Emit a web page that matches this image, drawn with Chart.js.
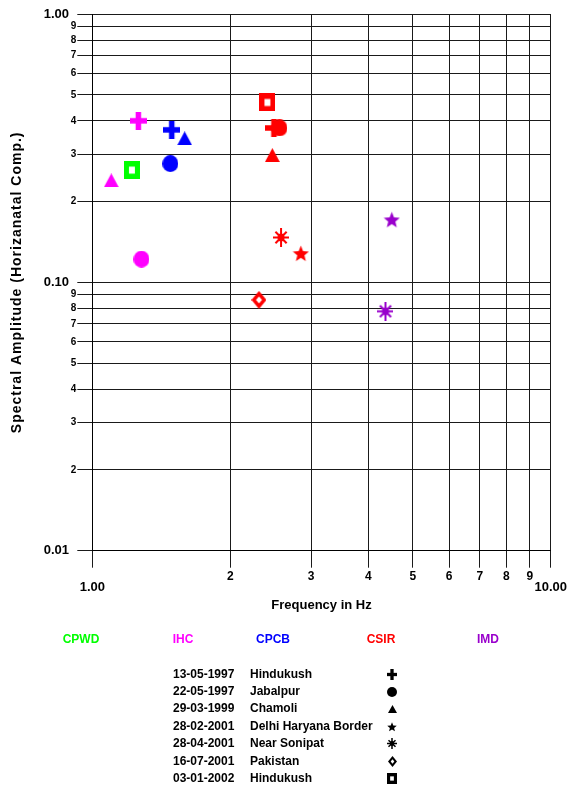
<!DOCTYPE html>
<html>
<head>
<meta charset="utf-8">
<script src="https://cdn.jsdelivr.net/npm/chart.js@4/dist/chart.umd.min.js"></script>
<style>
  html, body { margin: 0; padding: 0; background: #fff; }
  canvas { display: block; }
</style>
</head>
<body>
<canvas id="c" width="569" height="788" style="width:569px;height:788px"></canvas>
<script>
// ---------------- DATA ----------------
const agencies = ['CPWD', 'IHC', 'CPCB', 'CSIR', 'IMD'];
const eventDates = ['13-05-1997', '22-05-1997', '29-03-1999', '28-02-2001', '28-04-2001', '16-07-2001', '03-01-2002'];
const eventPlaces = ['Hindukush', 'Jabalpur', 'Chamoli', 'Delhi Haryana Border', 'Near Sonipat', 'Pakistan', 'Hindukush'];

const cpwdFreq = [1.22];
const cpwdAmp = [0.262];
const cpwdEvent = [6];

const ihcFreq = [1.26, 1.28, 1.10];
const ihcAmp = [0.400, 0.122, 0.240];
const ihcEvent = [0, 1, 2];

const cpcbFreq = [1.49, 1.48, 1.59];
const cpcbAmp = [0.370, 0.277, 0.344];
const cpcbEvent = [0, 1, 2];

const csirFreq = [2.49, 2.56, 2.47, 2.85, 2.58, 2.31, 2.41];
const csirAmp = [0.376, 0.376, 0.298, 0.128, 0.147, 0.086, 0.468];
const csirEvent = [0, 1, 2, 3, 4, 5, 6];

const imdFreq = [4.50, 4.36];
const imdAmp = [0.171, 0.078];
const imdEvent = [3, 4];

const xTickValues = [1, 2, 3, 4, 5, 6, 7, 8, 9, 10];
const xTickLabels = ['1.00', '2', '3', '4', '5', '6', '7', '8', '9', '10.00'];
const yTickValues = [0.01, 0.02, 0.03, 0.04, 0.05, 0.06, 0.07, 0.08, 0.09,
                     0.1, 0.2, 0.3, 0.4, 0.5, 0.6, 0.7, 0.8, 0.9, 1];
const yTickLabels = ['0.01', '2', '3', '4', '5', '6', '7', '8', '9',
                     '0.10', '2', '3', '4', '5', '6', '7', '8', '9', '1.00'];
const xTitle = 'Frequency in Hz';
const yTitle = 'Spectral Amplitude (Horizanatal Comp.)';

// ---------------- STYLES ----------------
const agencyColors = ['#00ff00', '#ff00ff', '#0000ff', '#ff0000', '#9900cc'];
const symbolShapes = ['plus', 'circle', 'triangle', 'star', 'asterisk', 'diamond', 'square'];
const FONT = '"Liberation Sans", Arial, Helvetica, sans-serif';

function makeSymbol(shape, color, k) {
  const dims = { plus: [17, 18], circle: [16, 17], triangle: [15, 14], star: [17, 17],
                 asterisk: [16, 19], diamond: [15, 18], square: [16, 18] };
  const w = Math.round(dims[shape][0] * k), h = Math.round(dims[shape][1] * k);
  const c = document.createElement('canvas');
  c.width = w; c.height = h;
  const g = c.getContext('2d');
  g.fillStyle = color; g.strokeStyle = color;
  switch (shape) {
    case 'plus': {
      const t = 5.5 * k;
      g.fillRect(0, (h - t) / 2, w, t);
      g.fillRect((w - t) / 2, 0, t, h);
      break;
    }
    case 'circle':
      g.beginPath(); g.ellipse(w / 2, h / 2, w / 2, h / 2, 0, 0, 2 * Math.PI); g.fill();
      break;
    case 'triangle':
      g.beginPath(); g.moveTo(w / 2, 0); g.lineTo(w, h); g.lineTo(0, h); g.closePath(); g.fill();
      break;
    case 'star': {
      g.beginPath();
      const cx = w / 2, cy = h * 0.53, R = w / 2, r = R * 0.44, sy = h / w;
      for (let i = 0; i < 10; i++) {
        const a = -Math.PI / 2 + i * Math.PI / 5;
        const rr = (i % 2) ? r : R;
        g.lineTo(cx + rr * Math.cos(a), cy + rr * Math.sin(a) * sy);
      }
      g.closePath(); g.fill();
      break;
    }
    case 'asterisk': {
      g.lineWidth = Math.max(1.5, 2 * k);
      g.beginPath();
      g.moveTo(w / 2, 0); g.lineTo(w / 2, h);
      g.moveTo(0, h / 2); g.lineTo(w, h / 2);
      g.moveTo(w * 0.15, h * 0.2); g.lineTo(w * 0.85, h * 0.8);
      g.moveTo(w * 0.85, h * 0.2); g.lineTo(w * 0.15, h * 0.8);
      g.stroke();
      g.beginPath(); g.ellipse(w / 2, h / 2, 3.5 * k, 4 * k, 0, 0, 2 * Math.PI); g.fill();
      break;
    }
    case 'diamond': {
      g.beginPath(); g.moveTo(w / 2, 0); g.lineTo(w, h / 2); g.lineTo(w / 2, h); g.lineTo(0, h / 2); g.closePath(); g.fill();
      const f = 0.4;
      g.fillStyle = '#fff';
      g.beginPath(); g.moveTo(w / 2, h / 2 - f * h / 2); g.lineTo(w / 2 + f * w / 2, h / 2);
      g.lineTo(w / 2, h / 2 + f * h / 2); g.lineTo(w / 2 - f * w / 2, h / 2); g.closePath(); g.fill();
      break;
    }
    case 'square': {
      g.fillRect(0, 0, w, h);
      const iw = w * 0.37, ih = h * 0.39;
      g.fillStyle = '#fff';
      g.fillRect((w - iw) / 2, (h - ih) / 2, iw, ih);
      break;
    }
  }
  return c;
}

function buildDataset(label, color, freq, amp, evt) {
  return {
    label: label,
    data: freq.map((f, i) => ({ x: f, y: amp[i] })),
    pointStyle: evt.map(e => makeSymbol(symbolShapes[e], color, 1)),
    pointRadius: 8,
    showLine: false,
    backgroundColor: color,
    borderColor: color
  };
}

const datasets = [
  buildDataset(agencies[0], agencyColors[0], cpwdFreq, cpwdAmp, cpwdEvent),
  buildDataset(agencies[1], agencyColors[1], ihcFreq, ihcAmp, ihcEvent),
  buildDataset(agencies[2], agencyColors[2], cpcbFreq, cpcbAmp, cpcbEvent),
  buildDataset(agencies[3], agencyColors[3], csirFreq, csirAmp, csirEvent),
  buildDataset(agencies[4], agencyColors[4], imdFreq, imdAmp, imdEvent)
];

function isMajor(v) {
  const l = Math.log10(v);
  return Math.abs(l - Math.round(l)) < 1e-9;
}

const legendSymbols = symbolShapes.map(s => makeSymbol(s, '#000', 0.6));

const extras = {
  id: 'extras',
  afterDraw(chart) {
    const ctx = chart.ctx;
    const area = chart.chartArea;
    ctx.save();
    // rotated y-axis title
    ctx.save();
    ctx.fillStyle = '#000';
    ctx.font = 'bold 14px ' + FONT;
    ctx.textAlign = 'center';
    ctx.textBaseline = 'middle';
    if ('letterSpacing' in ctx) ctx.letterSpacing = '1px';
    ctx.translate(17, (area.top + area.bottom) / 2);
    ctx.rotate(-Math.PI / 2);
    ctx.fillText(yTitle, 0, 0);
    ctx.restore();

    ctx.fillStyle = '#000';
    ctx.textBaseline = 'middle';
    ctx.font = 'bold 12px ' + FONT;
    const agencyX = [81, 183, 273, 381, 488];
    ctx.textAlign = 'center';
    agencies.forEach((a, i) => {
      ctx.fillStyle = agencyColors[i];
      ctx.fillText(a, agencyX[i], 640);
    });
    ctx.fillStyle = '#000';
    ctx.textAlign = 'left';
    eventDates.forEach((d, i) => {
      const y = 674.3 + i * 17.4;
      ctx.fillText(d, 173, y);
      ctx.fillText(eventPlaces[i], 250, y);
      const s = legendSymbols[i];
      ctx.drawImage(s, Math.round(392 - s.width / 2), Math.round(y - s.height / 2));
    });
    ctx.restore();
  }
};

const GRID = '#1a1a1a';

new Chart(document.getElementById('c'), {
  type: 'scatter',
  data: { datasets: datasets },
  plugins: [extras],
  options: {
    responsive: false,
    animation: false,
    devicePixelRatio: 1,
    layout: { padding: { left: 0, top: 14, right: 17.5, bottom: 0 } },
    plugins: { legend: { display: false }, tooltip: { enabled: false } },
    scales: {
      x: {
        type: 'logarithmic',
        position: 'bottom',
        min: 1, max: 10,
        afterBuildTicks: s => { s.ticks = xTickValues.map(v => ({ value: v, major: false })); },
        afterFit: s => { s.height = 788 - 550.7; },
        grid: { color: GRID, lineWidth: 1, tickLength: 17, drawTicks: true, tickColor: GRID },
        border: { display: true, color: '#000', width: 1 },
        ticks: {
          autoSkip: false, maxRotation: 0, minRotation: 0, padding: 2, color: '#000',
          font: ctx => (ctx.tick && isMajor(ctx.tick.value))
            ? { family: FONT, size: 13, weight: 'bold', lineHeight: 0.9 }
            : { family: FONT, size: 12, weight: 'bold', lineHeight: 1.2 },
          callback: (v, i) => {
            const lab = xTickLabels[i];
            return isMajor(xTickValues[i]) ? ['', lab] : lab;
          }
        },
        title: {
          display: true, text: xTitle, color: '#000',
          font: { family: FONT, size: 13, weight: 'bold', lineHeight: 1.2 },
          padding: { top: 0, bottom: 175.2 }
        }
      },
      y: {
        type: 'logarithmic',
        position: 'left',
        min: 0.01, max: 1,
        afterBuildTicks: s => { s.ticks = yTickValues.map(v => ({ value: v, major: false })); },
        afterFit: s => { s.width = 92.3; },
        grid: { color: GRID, lineWidth: 1, tickLength: 15, drawTicks: true, tickColor: GRID },
        border: { display: true, color: '#000', width: 1 },
        ticks: {
          autoSkip: false, padding: 1, color: '#000',
          font: ctx => (ctx.tick && isMajor(ctx.tick.value))
            ? { family: FONT, size: 13, weight: 'bold' }
            : { family: FONT, size: 10, weight: 'bold' },
          callback: (v, i) => isMajor(yTickValues[i]) ? yTickLabels[i] + '  ' : yTickLabels[i]
        },
        title: { display: false }
      }
    }
  }
});
</script>
</body>
</html>
